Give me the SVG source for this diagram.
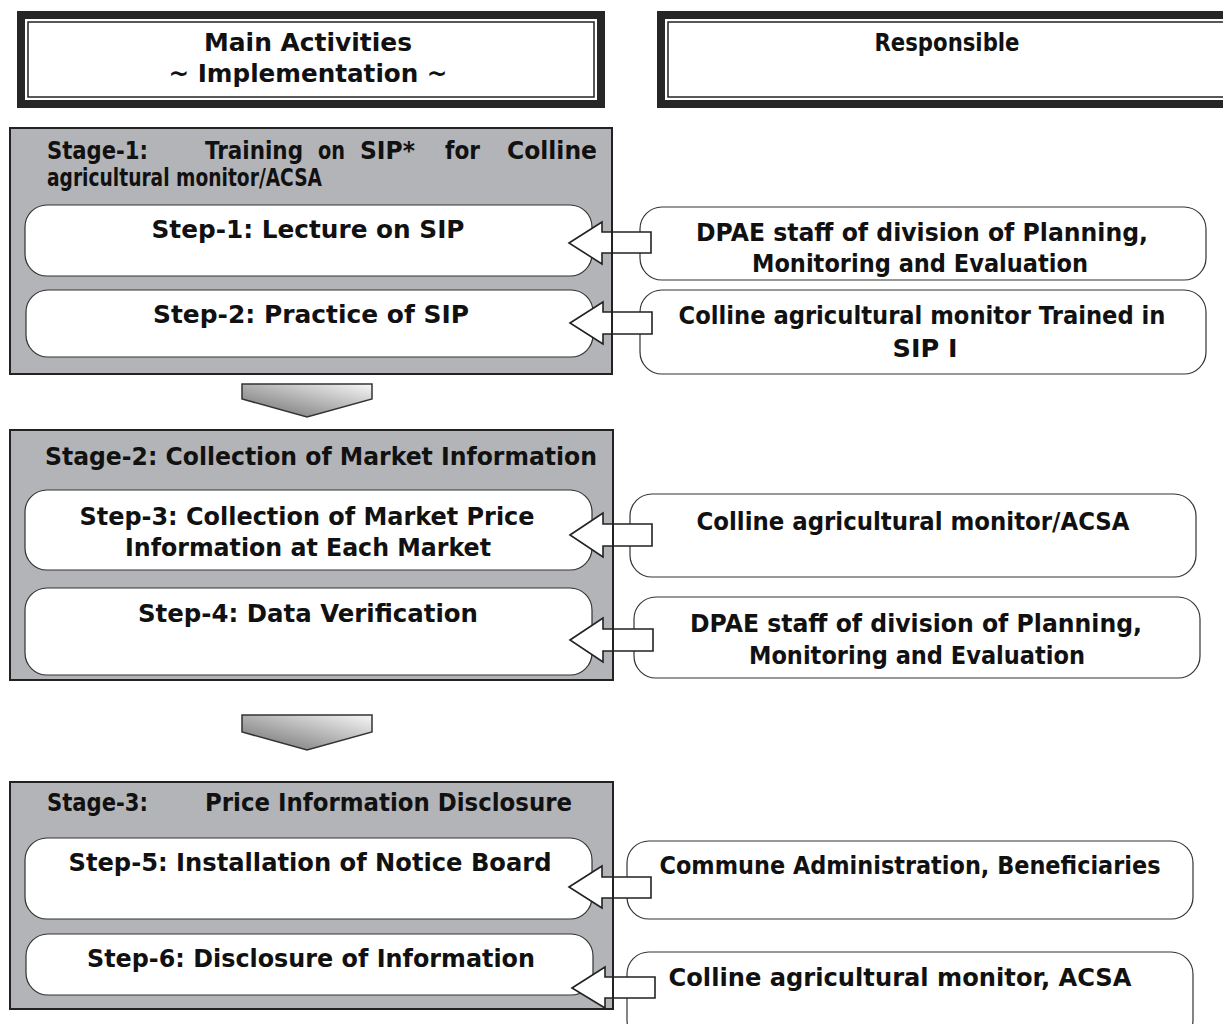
<svg xmlns="http://www.w3.org/2000/svg" width="1223" height="1024" viewBox="0 0 1223 1024">
<style>
text{font-family:"DejaVu Sans","Liberation Sans",sans-serif;font-weight:bold;font-size:24px;fill:#111}
.c{text-anchor:middle}
.stagefill{fill:#b3b4b7;stroke:none}
.stageline{fill:none;stroke:#222;stroke-width:2}
.step{fill:#fff;stroke:#333;stroke-width:1.2}
.resp{fill:#fff;stroke:#333;stroke-width:1.2}
.arrow{fill:#fff;stroke:#222;stroke-width:1.6;stroke-linejoin:miter}
.chev{fill:url(#cg);stroke:#333;stroke-width:1.5}
.hdrOuter{fill:#262626}
.hdrInner{fill:#fff;stroke:#222;stroke-width:1.5}
</style>
<defs>
<linearGradient id="cg" x1="0" y1="1" x2="1" y2="0">
<stop offset="0" stop-color="#6c6c6c"/>
<stop offset="1" stop-color="#f7f7f7"/>
</linearGradient>
</defs>
<rect width="1223" height="1024" fill="#fff"/>

<g id="header-main">
<rect class="hdrOuter" x="17" y="11" width="588" height="97"/>
<rect fill="#fff" x="25" y="19" width="572" height="81"/>
<rect class="hdrInner" x="28" y="22" width="566" height="75"/>
<text class="c" x="308" y="51" textLength="208" lengthAdjust="spacingAndGlyphs">Main Activities</text>
<text class="c" x="308" y="82" textLength="279" lengthAdjust="spacingAndGlyphs">~ Implementation ~</text>
</g>
<g id="header-resp">
<rect class="hdrOuter" x="657" y="11" width="580" height="97"/>
<rect fill="#fff" x="665" y="19" width="572" height="81"/>
<rect class="hdrInner" x="668" y="22" width="566" height="75"/>
<text class="c" x="947" y="51" textLength="145" lengthAdjust="spacingAndGlyphs">Responsible</text>
</g>

<g id="stage1">
<rect class="stagefill" x="10" y="128" width="602" height="246"/>
<text x="47" y="159" textLength="101" lengthAdjust="spacingAndGlyphs">Stage-1:</text>
<text x="205" y="159" textLength="98" lengthAdjust="spacingAndGlyphs">Training</text>
<text x="318" y="159" textLength="27" lengthAdjust="spacingAndGlyphs">on</text>
<text x="360" y="159" textLength="55" lengthAdjust="spacingAndGlyphs">SIP*</text>
<text x="445" y="159" textLength="35" lengthAdjust="spacingAndGlyphs">for</text>
<text x="507" y="159" textLength="90" lengthAdjust="spacingAndGlyphs">Colline</text>
<text x="47" y="186" textLength="275" lengthAdjust="spacingAndGlyphs">agricultural monitor/ACSA</text>
</g>
<g id="step1">
<rect class="step" x="25" y="205" width="567" height="71" rx="22"/>
<text class="c" x="308" y="238" textLength="313" lengthAdjust="spacingAndGlyphs">Step-1: Lecture on SIP</text>
</g>
<g id="step2">
<rect class="step" x="26" y="290" width="567" height="67" rx="22"/>
<text class="c" x="311" y="323" textLength="316" lengthAdjust="spacingAndGlyphs">Step-2: Practice of SIP</text>
</g>

<g id="stage2">
<rect class="stagefill" x="10" y="430" width="603" height="250"/>
<text x="45" y="465" textLength="552" lengthAdjust="spacingAndGlyphs">Stage-2: Collection of Market Information</text>
</g>
<g id="step3">
<rect class="step" x="25" y="490" width="567" height="80" rx="22"/>
<text class="c" x="307" y="525" textLength="455" lengthAdjust="spacingAndGlyphs">Step-3: Collection of Market Price</text>
<text class="c" x="308" y="556" textLength="366" lengthAdjust="spacingAndGlyphs">Information at Each Market</text>
</g>
<g id="step4">
<rect class="step" x="25" y="588" width="567" height="87" rx="22"/>
<text class="c" x="308" y="622" textLength="340" lengthAdjust="spacingAndGlyphs">Step-4: Data Verification</text>
</g>

<g id="stage3">
<rect class="stagefill" x="10" y="782" width="603" height="227"/>
<text x="47" y="811" textLength="101" lengthAdjust="spacingAndGlyphs">Stage-3:</text>
<text x="205" y="811" textLength="367" lengthAdjust="spacingAndGlyphs">Price Information Disclosure</text>
</g>
<g id="step5">
<rect class="step" x="25" y="838" width="567" height="81" rx="22"/>
<text class="c" x="310" y="871" textLength="483" lengthAdjust="spacingAndGlyphs">Step-5: Installation of Notice Board</text>
</g>
<g id="step6">
<rect class="step" x="26" y="934" width="567" height="61" rx="22"/>
<text class="c" x="311" y="967" textLength="448" lengthAdjust="spacingAndGlyphs">Step-6: Disclosure of Information</text>
</g>

<g id="resp1">
<rect class="resp" x="640" y="207" width="566" height="73" rx="22"/>
<text class="c" x="922" y="241" textLength="452" lengthAdjust="spacingAndGlyphs">DPAE staff of division of Planning,</text>
<text class="c" x="920" y="272" textLength="336" lengthAdjust="spacingAndGlyphs">Monitoring and Evaluation</text>
</g>
<g id="resp2">
<rect class="resp" x="640" y="290" width="566" height="84" rx="22"/>
<text class="c" x="922" y="324" textLength="487" lengthAdjust="spacingAndGlyphs">Colline agricultural monitor Trained in</text>
<text class="c" x="925" y="357" textLength="65" lengthAdjust="spacingAndGlyphs">SIP I</text>
</g>
<g id="resp3">
<rect class="resp" x="630" y="494" width="566" height="83" rx="22"/>
<text class="c" x="913" y="530" textLength="433" lengthAdjust="spacingAndGlyphs">Colline agricultural monitor/ACSA</text>
</g>
<g id="resp4">
<rect class="resp" x="634" y="597" width="566" height="81" rx="22"/>
<text class="c" x="916" y="632" textLength="452" lengthAdjust="spacingAndGlyphs">DPAE staff of division of Planning,</text>
<text class="c" x="917" y="664" textLength="336" lengthAdjust="spacingAndGlyphs">Monitoring and Evaluation</text>
</g>
<g id="resp5">
<rect class="resp" x="627" y="841" width="566" height="78" rx="22"/>
<text class="c" x="910" y="874" textLength="501" lengthAdjust="spacingAndGlyphs">Commune Administration, Beneficiaries</text>
</g>
<g id="resp6">
<rect class="resp" x="627" y="952" width="566" height="90" rx="22"/>
<text class="c" x="900" y="986" textLength="463" lengthAdjust="spacingAndGlyphs">Colline agricultural monitor, ACSA</text>
</g>

<g id="connectors">
<polygon class="arrow" points="569,243 602,222 602,232 651,232 651,253 602,253 602,264"/>
<polygon class="arrow" points="570,323 603,302 603,312 652,312 652,334 603,334 603,344"/>
<polygon class="arrow" points="570,535 603,513 603,524 652,524 652,546 603,546 603,557"/>
<polygon class="arrow" points="570,640 603,618 603,629 653,629 653,651 603,651 603,662"/>
<polygon class="arrow" points="569,887 602,866 602,877 651,877 651,898 602,898 602,908"/>
<polygon class="arrow" points="572,988 605,967 605,977 655,977 655,998 605,998 605,1008"/>
<polygon class="chev" points="242,384 372,384 372,399 307,417 242,399"/>
<polygon class="chev" points="242,715 372,715 372,732 307,750 242,732"/>
</g>

<g id="stage-borders">
<rect class="stageline" x="10" y="128" width="602" height="246"/>
<rect class="stageline" x="10" y="430" width="603" height="250"/>
<rect class="stageline" x="10" y="782" width="603" height="227"/>
</g>
</svg>
